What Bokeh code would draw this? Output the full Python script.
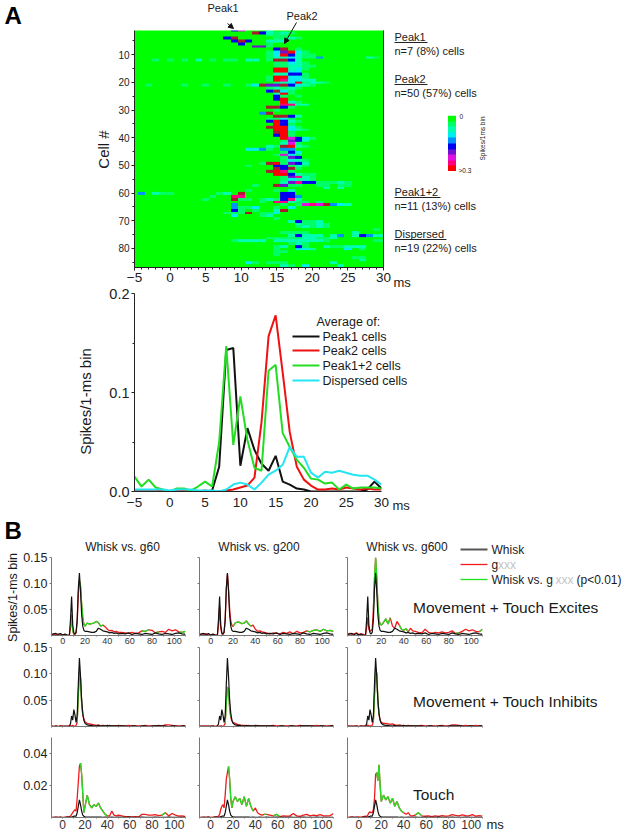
import numpy as np
from bokeh.embed import file_html
from bokeh.resources import INLINE
from bokeh.layouts import column
from bokeh.models import (Arrow, NormalHead, LinearAxis, FixedTicker, LinearColorMapper, Range1d, Label)
from bokeh.plotting import figure

FONT = "Liberation Sans"
DARK = "#222222"

# ---------- Panel A heat map (levels per 1-ms bin, listed from first time bin t0)
HEAT_COLORS = ["#00ff00", "#00ff66", "#00ffb0", "#00eef0", "#0090ff", "#0000f0",
               "#7010d0", "#e010e0", "#ff0080", "#ff0000", "#a81c2c", "#0a30b0"]
CHARS = "0123456789rb"
HEAT_ROWS = {
    1: (9, "570002"), 2: (12, "r52121"), 3: (14, "1110"), 4: (8, "5r0000011210"),
    5: (9, "5r500222"), 6: (10, "50001"), 7: (12, "661"), 8: (14, "05r01"),
    9: (14, "136931"), 10: (14, "1395211"), 11: (-1, "000000000000000122321140000002100"),
    12: (-2, "10101020101102201rr52"), 13: (15, "11321"), 14: (15, "112211"), 15: (15, "99231"),
    16: (15, "9933"), 17: (15, "22551"), 18: (14, "199331"), 19: (14, "1983322"),
    20: (15, "12391221"), 21: (-3, "1000010010010013r66r5321"), 22: (14, "12121"),
    23: (14, "5r31"), 24: (15, "291"), 25: (15, "5101"), 26: (15, "59"), 27: (16, "921"),
    28: (16, "8822"), 29: (14, "rr51"), 30: (14, "01"), 31: (13, "4r"), 32: (14, "0rr52"),
    33: (14, "1131"), 34: (14, "59521"), 35: (15, "951"), 36: (14, "r9931"), 37: (15, "99321"),
    38: (15, "r91"), 39: (15, "591"), 40: (16, "97531"), 41: (16, "1652"), 42: (16, "271"),
    43: (14, "21r921"), 44: (11, "3341044"), 45: (15, "0153"), 46: (15, "1731"), 47: (16, "165"),
    48: (15, "01321"), 49: (13, "1r91652"), 50: (11, "100055121"), 51: (15, "r5r1"),
    52: (14, "r981"), 53: (15, "995211"), 54: (16, "16821"), 55: (16, "13221"),
    56: (16, "2685511121"), 57: (12, "100r6110011011"), 58: (22, "202"), 59: (10, "01000102"),
    60: (-4, "40211000000120r00000550"), 61: (6, "1008800000554"), 62: (5, "1000r110121582"),
    63: (13, "1088211010"), 64: (9, "4000000101787r432"), 65: (9, "411300103"),
    66: (9, "5101002r"), 67: (8, "111r0113"), 68: (9, "300012"), 69: (15, "1"),
    70: (17, "25112"), 71: (18, "21121"), 72: (18, "121210"), 73: (28, "01"),
    74: (16, "11110000002"), 75: (17, "252220240254222"),
    76: (14, "1111122112"), 77: (9, "1222202222222100000011"), 78: (16, "0121"),
    79: (14, "01205100211222"), 80: (15, "1003320000301"), 81: (15, "11"), 82: (15, "1"),
    83: (26, "11"), 84: (27, "2"), 85: (11, "31011100000020"), 86: (16, "2103000020"),
    87: (16, "11"),
}
COLORBAR_LEVELS = list(range(10))
CELL_TICKS = [10, 20, 30, 40, 50, 60, 70, 80]
TIME_TICKS = [-5, 0, 5, 10, 15, 20, 25, 30]

# ---------- Panel A average curves
t_ms = list(range(-5, 31))
peak1 = [0, 0, 0, 0, 0, 0, 0, 0, 0, 0, 0, .001, .025, .143, .145, .026, .064, .042, .028, .021, .036,
         .01, .007, .003, .002, 0, 0, 0, 0, 0, 0, 0, 0, .002, .01, .003]
peak2 = [0, 0, 0, 0, .001, 0, 0, .001, .001, 0, .001, 0, 0, .001, .002, .004, .006, .014, .07, .157,
         .178, .12, .06, .025, .012, .006, .002, .002, .003, .002, .004, .003, .002, .003, .002, .002]
peak12 = [.015, .005, .012, .004, .002, 0, .003, .003, .001, .005, .01, .005, .05, .147, .047, .096,
          .052, .024, .021, .122, .128, .059, .045, .032, .024, .013, .012, .008, .009, .002, .007,
          .003, .004, .004, .004, .003]
dispersed = [.002, .002, .002, .002, .002, .001, .002, .002, .002, .001, .001, .001, 0, .002, .007,
             .009, .007, .002, .009, .017, .021, .027, .045, .035, .035, .019, .014, .02, .019, .021,
             .019, .017, .016, .016, .012, .007]

# ---------- Panel B (spikes per bin x 1000)
b_ms = ([-10, -8, -6, -4, -2, 0, 2, 4, 6] + list(range(7, 21)) + list(range(22, 51, 2)) + list(range(53, 111, 3)))
whisk_excite = [2, 3, 4, 2, 4, 1, 3, 1, 0,
                30, 75, 20, 5, 3, 6, 30, 90, 120, 85, 40, 18, 10, 8,
                8, 7, 6, 6, 8, 14, 12, 9, 8, 7, 5, 6, 4, 5, 3,
                4, 3, 5, 2, 4, 3, 2, 4, 3, 2, 5, 3, 2, 4, 3, 2, 4, 5, 3, 2]
g60_excite = [1, 3, 1, 2, 3, 0, 2, 0, 1,
              15, 40, 10, 2, 2, 5, 25, 80, 105, 95, 60, 35, 22, 18,
              24, 22, 23, 24, 27, 25, 18, 20, 17, 12, 9, 10, 7, 8, 6,
              6, 5, 4, 6, 4, 5, 9, 8, 11, 10, 5, 7, 8, 6, 12, 9, 11, 7, 6, 8]
g200_excite = [1, 3, 2, 3, 1, 0, 2, 1, 0,
               20, 55, 15, 3, 2, 6, 30, 90, 118, 90, 50, 28, 20, 17,
               24, 26, 25, 23, 24, 28, 22, 18, 20, 12, 8, 9, 7, 6, 5,
               3, 5, 4, 3, 6, 4, 7, 3, 8, 5, 6, 9, 7, 10, 11, 8, 12, 9, 10, 8]
g600_excite = [2, 4, 2, 3, 5, 2, 3, 2, 1,
               15, 35, 12, 8, 10, 12, 50, 110, 150, 110, 60, 30, 22, 20,
               25, 32, 22, 34, 18, 14, 27, 20, 12, 10, 13, 7, 14, 9, 8,
               6, 5, 12, 6, 4, 6, 5, 7, 5, 6, 9, 4, 5, 8, 12, 9, 11, 8, 7, 12]
whisk_inhibit = [1, 0, 1, 0, 1, 0, 1, 0, 1,
                 5, 20, 12, 32, 22, 8, 20, 80, 130, 95, 50, 25, 12, 6,
                 3, 2, 2, 1, 1, 2, 1, 1, 1, 2, 1, 1, 1, 1, 1,
                 1, 1, 0, 1, 1, 0, 1, 1, 0, 1, 1, 1, 1, 1, 0, 1, 1, 0, 1, 1]
g60_inhibit = [1, 0, 1, 0, 1, 1, 0, 1, 1,
               1, 1, 2, 1, 0, 2, 8, 60, 105, 90, 45, 22, 14, 9,
               6, 5, 4, 3, 2, 3, 1, 2, 1, 1, 2, 1, 1, 1, 2,
               1, 1, 2, 1, 1, 1, 1, 2, 1, 1, 1, 2, 1, 3, 3, 2, 1, 1, 1, 1]
g200_inhibit = [0, 1, 0, 1, 0, 1, 1, 0, 1,
                0, 1, 1, 1, 0, 2, 6, 45, 75, 70, 35, 18, 11, 8,
                6, 4, 3, 2, 2, 1, 2, 1, 1, 1, 2, 1, 1, 1, 1,
                1, 2, 1, 1, 1, 1, 1, 1, 1, 2, 1, 1, 1, 1, 2, 1, 1, 1, 1, 2]
g600_inhibit = [1, 1, 0, 1, 1, 0, 1, 1, 1,
                1, 3, 1, 1, 1, 2, 10, 60, 110, 100, 50, 22, 12, 8,
                6, 6, 5, 4, 5, 3, 2, 3, 2, 1, 1, 2, 1, 1, 1,
                1, 2, 1, 1, 1, 1, 1, 2, 1, 1, 3, 3, 2, 1, 2, 1, 1, 2, 1, 1]
whisk_touch = [0, 0, .2, 0, .2, 0, 0, .3, .2,
               0, .3, .5, .8, .8, .8, 3, 7, 11, 8, 4, 1.5, .8, .4,
               .2, .3, .2, .2, .2, .2, .2, .1, .2, .1, .1, .2, .1, .1, .2,
               .1, .1, .2, .1, .1, .1, .2, .1, .1, .1, .2, .1, .1, .1, .2, .1, .1, .1, .1, .1]
g60_touch = [0, .3, 0, .2, .1, 0, .2, .3, .6,
             .8, 2, 3, 4, 5, 4, 12, 22, 32, 34, 27, 15, 3, 7,
             14, 8, 6, 8, 7, 9, 6, 4, 2, 1, 1, 4, 1.5, 1, 1.5,
             1, .5, .5, .3, .5, .3, 2, 2, 1.5, 1.5, 1.8, 1.2, 1.5, 3, 1, 2.5, 1.5, .8, 1, .5]
g200_touch = [0, .2, .1, .2, .3, 0, .2, .4, .6,
              .8, 2, 5, 7, 8, 6, 14, 24, 28, 32, 24, 12, 6, 10,
              13, 10, 12, 8, 13, 7, 12, 7, 4, 6, 3, 2, 1.5, 2, 2,
              1.5, 1, 2, .5, 1, .8, 1, 2.5, 1, .7, 1.5, 2, 1, 1.5, 1.2, 1.8, 1, 1, 1.2, 2.5]
g600_touch = [0, .3, .2, .3, 0, .4, .2, .5, .8,
              .6, 1.5, 3, 3.5, 3, 3, 5, 12, 27, 28, 23, 33, 20, 10,
              14, 11, 13, 9, 12, 7, 10, 6, 4, 3, 2, 3, 1, 1, 1.5,
              3, 1, .8, 1, .5, 1, .7, 1.2, .8, 1, 1.8, 1.3, 1, 1.6, 1.2, 1, 1.8, .8, 1.2, .8]
SIG = {"g60_excite": [(7, 10), (15, 36), (70, 78), (83, 88), (104, 110)],
       "g200_excite": [(20, 36), (85, 95), (98, 110)],
       "g600_excite": [(13, 19), (20, 28), (36, 44), (85, 90), (107, 110)],
       "g60_inhibit": [(13, 18)], "g200_inhibit": [(13, 18)], "g600_inhibit": [(13, 18)],
       "g60_touch": [(16, 40), (88, 92)], "g200_touch": [(16, 38), (47, 50), (56, 62)],
       "g600_touch": [(16, 40), (50, 56)]}
B_TICKS = [0, 20, 40, 60, 80, 100]
ROW_TICKS = {"excite": [.05, .10, .15], "inhibit": [.05, .10, .15], "touch": [.02, .04]}
COLUMN_TITLES = ["Whisk vs. g60", "Whisk vs. g200", "Whisk vs. g600"]

placed = []
PAD_L, PAD_R = 50, 30


def panel(x0, y0, x1, y1, xr, yr, ml=PAD_L, mt=8, mr=PAD_R, mb=24):
    w, h = x1 - x0 + ml + mr, y1 - y0 + mt + mb
    f = figure(width=w, height=h, x_range=xr, y_range=yr,
               output_backend="svg", toolbar_location=None, x_axis_location=None, y_axis_location=None,
               min_border_left=ml, min_border_right=mr, min_border_top=mt, min_border_bottom=mb,
               background_fill_color=None, border_fill_color=None, outline_line_color=None)
    f.grid.visible = False
    placed.append((f, x0 - ml, y0 - mt, h))
    return f


def axis(f, side, ticks, size, color=DARK, line=DARK, minor=None, standoff=2, tick_out=3,
         minor_out=2, overrides=None, labels=True):
    ov_map = dict(overrides or {})
    if not labels:
        ov_map = {t: "" for t in ticks}
    ax = LinearAxis(ticker=FixedTicker(ticks=ticks, minor_ticks=minor or []),
                    major_label_text_font=FONT, major_label_text_font_size=f"{size}px",
                    major_label_text_color=color, axis_line_color=line, major_tick_line_color=line,
                    minor_tick_line_color=line, major_tick_out=tick_out, major_tick_in=0,
                    minor_tick_out=minor_out, minor_tick_in=0, major_label_standoff=standoff)
    if ov_map:
        ax.major_label_overrides = ov_map
    f.add_layout(ax, side)
    return ax


# heat map
levels = np.zeros((87, 36))
for row, (t0, s) in HEAT_ROWS.items():
    for i, ch in enumerate(s):
        if 0 <= t0 + 5 + i < 36:
            levels[row - 1, t0 + 5 + i] = CHARS.index(ch) + 0.5
mapper = LinearColorMapper(palette=HEAT_COLORS, low=0, high=12)
hm = panel(134, 30, 383, 267, Range1d(-5, 30), Range1d(86.9, 1.25), mt=4, mb=28)
hm.image(image=[levels], x=-5.5, y=0.5, dw=36, dh=87, color_mapper=mapper)
axis(hm, "left", CELL_TICKS, 10, minor=[5, 15, 25, 35, 45, 55, 65, 75, 85])
axis(hm, "below", TIME_TICKS, 13.5, minor=list(range(-5, 31)))
axis(hm, "right", [], 1, tick_out=0, minor_out=0)

# colour bar
cb = panel(448, 115, 456, 171, Range1d(0, 1), Range1d(10, 0), ml=0, mt=0, mr=0, mb=0)
cb.image(image=[np.array(COLORBAR_LEVELS, dtype=float).reshape(10, 1) + 0.5], x=0, y=0, dw=1, dh=10,
         color_mapper=mapper)

# average curves
lc = panel(134, 293, 381, 491, Range1d(-5, 30), Range1d(0, 0.2), mt=10, mb=26)
for ys, col in [(peak1, "#111111"), (peak2, "#ee1111"), (peak12, "#22dd22"), (dispersed, "#22e6f2")]:
    lc.line(t_ms, ys, line_color=col, line_width=2)
axis(lc, "left", [0, .1, .2], 14.5, minor=[.05, .15], overrides={0: "0.0", .1: "0.1", .2: "0.2"})
axis(lc, "below", TIME_TICKS, 13.5, tick_out=0, minor_out=0, standoff=6)

# small panels
ROWS = [("excite", 557, 635, 0.15, 9, whisk_excite, [g60_excite, g200_excite, g600_excite]),
        ("inhibit", 647, 726, 0.15, 0, whisk_inhibit, [g60_inhibit, g200_inhibit, g600_inhibit]),
        ("touch", 737, 817, 0.05, 12, whisk_touch, [g60_touch, g200_touch, g600_touch])]
COLS = [(51, 185, "g60"), (199, 333, "g200"), (347, 482, "g600")]
bx = np.array(b_ms, dtype=float)
for key, y0, y1, ymax, xsize, whisk, gs in ROWS:
    for (x0, x1, name), g in zip(COLS, gs):
        assert len(g) == len(bx) and len(whisk) == len(bx)
        f = panel(x0, y0, x1, y1, Range1d(-10, 110), Range1d(0, ymax), mt=7, mb=15)
        gv = np.array(g) / 1000.0
        mask = np.zeros(len(bx), dtype=bool)
        for a, b in SIG[f"{name}_{key}"]:
            mask |= (bx >= a) & (bx <= b)
        f.line(bx, gv, line_color="#ee1c1c", line_width=1.3)
        f.line(bx, np.where(mask, gv, np.nan), line_color="#22e022", line_width=1.3)
        f.line(bx, np.array(whisk) / 1000.0, line_color="#111111", line_width=1.2)
        left = x0 == 51
        fmt = {t: f"{t:.2f}" for t in ROW_TICKS[key]}
        axis(f, "left", ROW_TICKS[key], 12.5, line="#777777", tick_out=2, standoff=2, overrides=fmt, labels=left)
        axis(f, "below", B_TICKS, xsize or 9, color="#333333", line="#777777", tick_out=1, standoff=1,
             labels=bool(xsize), minor=[-10] + list(range(10, 111, 20)), minor_out=1)

# free page texts, leaders and legends, in page pixels: two overlays, left and right part of the page.
# Figures stacked in a column share their largest side borders, so the overlays use the same borders.
OV_WIDTH = 625
OV_FRAME = OV_WIDTH - PAD_L - PAD_R
RIGHT_FRAME_AT = 625 - OV_FRAME


def overlay(page_x0):
    o = figure(width=OV_WIDTH, height=832, x_range=Range1d(page_x0, page_x0 + OV_FRAME), y_range=Range1d(832, 0),
               output_backend="svg", toolbar_location=None, x_axis_location=None, y_axis_location=None,
               min_border_left=PAD_L, min_border_right=PAD_R, min_border_top=0, min_border_bottom=0,
               background_fill_color=None, border_fill_color=None, outline_line_color=None)
    o.grid.visible = False
    return o


ov_left = overlay(0)
ov_right = overlay(RIGHT_FRAME_AT)


def target(x):
    return ov_right if x >= 300 else ov_left


def txt(x, y, s, size, color="#1a1a1a", angle=0.0, align="left", style="normal"):
    target(x).add_layout(Label(x=x, y=y, text=s, text_font=FONT, text_font_size=f"{size}px", text_color=color,
                               text_baseline="middle", text_align=align, angle=angle, text_font_style=style))


def rule(x0, y0, x1, y1, color, width):
    target(x0).add_layout(Arrow(x_start=x0, y_start=y0, x_end=x1, y_end=y1, line_color=color, line_width=width,
                                end=None))


txt(4, 15, "A", 24, "#000000", style="bold")
txt(4, 530, "B", 24, "#000000", style="bold")
txt(207, 7, "Peak1", 11)
txt(286, 15, "Peak2", 11)
for a, b in [((227, 23), (233, 28)), ((296, 22), (284, 43))]:
    ov_left.add_layout(Arrow(x_start=a[0], y_start=a[1], x_end=b[0], y_end=b[1], line_width=1, line_color="#111111",
                             end=NormalHead(size=5, fill_color="#111111", line_color="#111111")))
for y, head, count, w in [(36, "Peak1", "n=7 (8%) cells", 33), (78, "Peak2", "n=50 (57%) cells", 33),
                          (191, "Peak1+2", "n=11 (13%) cells", 46), (233, "Dispersed", "n=19 (22%) cells", 52)]:
    txt(394, y, head, 11)
    rule(394, y + 6, 394 + w, y + 6, "#222222", 1)
    txt(394, y + 14.5, count, 11)
txt(459, 116, "0", 6.5)
txt(458, 170, ">0.3", 6.5)
txt(482, 138, "Spikes/1ms bin", 6.5, angle=np.pi / 2, align="center")
txt(103, 149, "Cell #", 15, angle=np.pi / 2, align="center")
txt(393, 282, "ms", 13)
txt(85, 401, "Spikes/1-ms bin", 15, angle=np.pi / 2, align="center")
txt(392, 505, "ms", 13)
txt(316, 321, "Average of:", 12.5)
for y, s, c in [(336, "Peak1 cells", "#111111"), (350, "Peak2 cells", "#ee1111"),
                (365, "Peak1+2 cells", "#22dd22"), (380, "Dispersed cells", "#22e6f2")]:
    ov_right.add_layout(Arrow(x_start=292, y_start=y, x_end=319, y_end=y, line_color=c, line_width=2, end=None))
    txt(322, y, s, 12.5)
txt(12, 597, "Spikes/1-ms bin", 12.5, angle=np.pi / 2, align="center")
for x, s in zip([122, 258.5, 406.5], COLUMN_TITLES):
    txt(x, 546.5, s, 12, align="center")
for y, c, w in [(549, "#555555", 2), (564, "#ee1c1c", 1.3), (579, "#22e022", 1.3)]:
    rule(460, y, 487, y, c, w)
txt(491, 549, "Whisk", 12)
txt(491, 564, "g", 12)
txt(497.5, 564, "xxx", 12, "#c4c4c4")
txt(491, 579, "Whisk vs. g", 12)
txt(555, 579, "xxx", 12, "#c4c4c4")
txt(576, 579, "(p<0.01)", 12)
txt(412.5, 607, "Movement + Touch Excites", 15.5)
txt(412.5, 701, "Movement + Touch Inhibits", 15.5)
txt(412.5, 794, "Touch", 15.5)
txt(486, 824, "ms", 13)
placed.append((ov_left, -PAD_L, 0, 832))
placed.append((ov_right, RIGHT_FRAME_AT - PAD_L, 0, 832))

# stack everything at its page position
children = []
bottom = 0
for f, left, top, h in placed:
    f.margin = (top - bottom, 0, 0, left)
    bottom = top + h
    children.append(f)
page = column(*children, width=625, height=832, styles={"overflow": "hidden"})
open("out.html", "w").write(file_html(page, INLINE))
